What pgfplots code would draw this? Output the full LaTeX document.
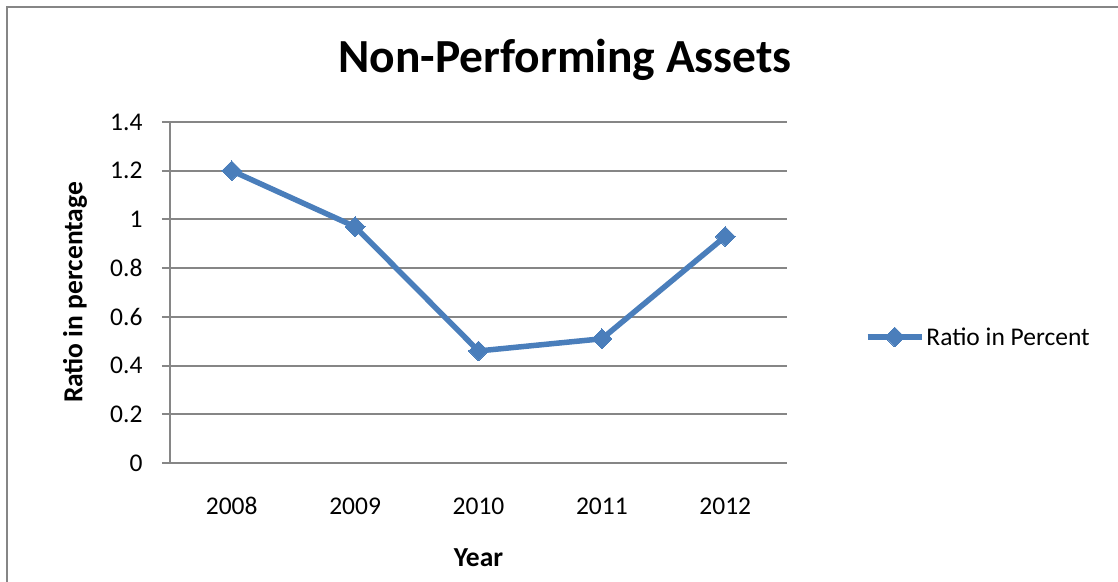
\documentclass[border=0pt]{standalone}
\usepackage{pgfplots}
\pgfplotsset{compat=1.18}
\usepackage{fontspec}
\setmainfont{Carlito}
\definecolor{lineblue}{HTML}{4A7EBB}
\definecolor{gridgray}{HTML}{868686}
\begin{document}
\begin{tikzpicture}[x=1pt,y=1pt]
\path[use as bounding box] (0,0) rectangle (1118,581);
\draw[gridgray, line width=2pt] (7,-5) -- (7,574) -- (1125,574);
\node[font=\fontsize{47.5}{56}\selectfont\bfseries] at (565,521) {Non-Performing Assets};
\begin{axis}[
  at={(170pt,118pt)}, anchor=south west,
  scale only axis, width=617pt, height=341pt,
  xmin=-0.5, xmax=4.5, ymin=0, ymax=1.4,
  xtick={0,1,2,3,4}, xticklabels={2008,2009,2010,2011,2012},
  ytick={0,0.2,0.4,0.6,0.8,1,1.2,1.4},
  yticklabels={0,0.2,0.4,0.6,0.8,1,1.2,1.4},
  axis x line*=bottom, axis y line*=left,
  axis line style={gridgray, line width=2pt, -},
  every outer x axis line/.append style={-},
  every outer y axis line/.append style={-},
  ymajorgrids, grid style={gridgray, line width=2pt},
  xtick style={draw=none},
  ytick style={gridgray, line width=2pt},
  tick align=outside, major tick length=8pt,
  tick label style={font=\fontsize{25.5}{30}\selectfont, text=black},
  /pgf/number format/assume math mode=true,
  xticklabel style={yshift=-23pt},
  yticklabel style={xshift=-16pt},
  xlabel={Year}, ylabel={Ratio in percentage},
  every axis x label/.style={at={(axis description cs:0.5,-0.2786)}, anchor=center,
    font=\fontsize{27.5}{32}\selectfont\bfseries},
  every axis y label/.style={at={(axis description cs:-0.154,0.5)}, anchor=center, rotate=90,
    font=\fontsize{27.5}{32}\selectfont\bfseries},
  legend style={at={(1.126,0.3695)}, anchor=west, draw=none, fill=none,
    font=\fontsize{25.5}{30}\selectfont, inner sep=0pt},
  legend cell align=left,
  legend image code/.code={\draw[mark repeat=2,mark phase=2,#1] plot coordinates {(0pt,0pt) (27pt,0pt) (54pt,0pt)};},
]
\addplot[lineblue, line width=5.5pt, line join=round, mark=square*, mark size=7pt,
  mark options={rotate=45, solid, fill=lineblue, draw=lineblue, line width=0pt}]
  coordinates {(0,1.2) (1,0.97) (2,0.46) (3,0.51) (4,0.93)};
\addlegendentry{Ratio in Percent}
\end{axis}
\end{tikzpicture}
\end{document}
